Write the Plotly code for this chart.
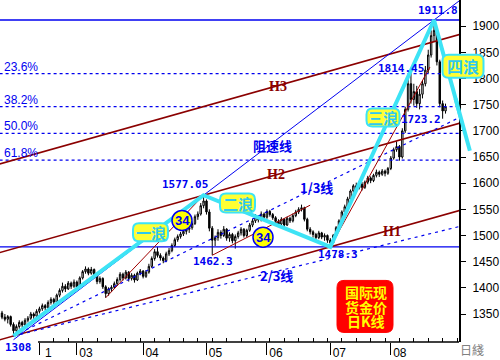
import plotly.graph_objects as go

# ---------------- data (daily candles, index = trading day) ----------------
opens = [1352,1344,1340,1345,1330,1318,1326,1334,1329,1338,
         1342,1350,1346,1355,1360,1366,1362,1372,1378,1373,
         1386,1395,1403,1398,1409,1403,1411,1401,1419,1431,
         1436,1428,1435,1424,1412,1418,1402,1389,1398,1401,
         1408,1416,1426,1419,1430,1418,1424,1415,1428,1432,
         1422,1430,1441,1456,1469,1462,1457,1452,1465,1471,
         1481,1492,1498,1503,1508,1512,1515,1523,1536,1541,
         1557,1566,1545,1514,1491,1496,1506,1500,1512,1495,
         1502,1490,1498,1505,1512,1500,1510,1520,1528,1536,
         1530,1541,1535,1546,1540,1534,1527,1522,1531,1520,
         1533,1528,1538,1545,1550,1553,1531,1512,1507,1502,
         1496,1505,1497,1500,1491,1486,1500,1515,1528,1545,
         1555,1570,1585,1595,1591,1598,1592,1602,1610,1605,
         1615,1621,1617,1623,1619,1628,1648,1664,1670,1650,
         1700,1741,1790,1760,1775,1752,1770,1790,1816,1845,
         1882,1892,1832,1752,1738]
highs = [1356,1350,1348,1347,1334,1330,1338,1337,1342,1346,
         1354,1353,1359,1364,1370,1369,1376,1382,1381,1389,
         1399,1410,1407,1413,1412,1416,1414,1422,1434,1441,
         1439,1440,1437,1428,1422,1420,1405,1401,1405,1412,
         1420,1430,1429,1434,1432,1428,1427,1431,1436,1434,
         1434,1446,1460,1474,1478,1466,1460,1469,1476,1485,
         1496,1502,1507,1512,1516,1520,1527,1540,1546,1562,
         1577.05,1569,1550,1518,1500,1512,1510,1518,1514,1506,
         1505,1502,1509,1516,1514,1513,1524,1532,1541,1539,
         1546,1544,1550,1549,1543,1537,1531,1535,1533,1536,
         1536,1542,1549,1554,1559,1555,1534,1516,1510,1505,
         1509,1507,1504,1502,1495,1503,1518,1531,1548,1559,
         1574,1588,1598,1601,1604,1602,1605,1614,1613,1618,
         1626,1624,1627,1626,1631,1652,1668,1680,1673,1705,
         1746,1800,1814.45,1790,1786,1780,1796,1824,1855,1892,
         1911.8,1896,1836,1758,1752]
lows = [1340,1336,1332,1326,1308,1314,1322,1324,1326,1334,
        1339,1341,1344,1351,1356,1357,1360,1368,1368,1371,
        1382,1391,1392,1396,1398,1400,1396,1399,1416,1427,
        1424,1425,1420,1407,1408,1398,1381,1385,1392,1398,
        1404,1412,1414,1416,1412,1414,1410,1413,1424,1418,
        1419,1427,1438,1452,1458,1452,1447,1449,1461,1468,
        1478,1488,1494,1499,1502,1505,1511,1520,1530,1538,
        1552,1540,1508,1462.3,1480,1490,1494,1497,1490,1488,
        1485,1475,1494,1500,1496,1497,1507,1516,1524,1525,
        1527,1530,1532,1536,1530,1522,1517,1519,1516,1518,
        1524,1525,1535,1541,1546,1527,1508,1502,1496,1491,
        1493,1493,1490,1486,1478.3,1484,1497,1512,1525,1541,
        1551,1566,1580,1586,1588,1586,1589,1598,1600,1602,
        1611,1612,1614,1613,1616,1625,1645,1660,1643,1647,
        1696,1737,1752,1748,1744,1741,1762,1785,1810,1840,
        1870,1825,1745,1723.2,1733]
closes = [1344,1340,1345,1330,1318,1326,1334,1329,1338,1342,
          1350,1346,1355,1360,1366,1362,1372,1378,1373,1386,
          1395,1403,1398,1409,1403,1411,1401,1419,1431,1436,
          1428,1435,1424,1412,1418,1402,1389,1398,1401,1408,
          1416,1426,1419,1430,1418,1424,1415,1428,1432,1422,
          1430,1441,1456,1469,1462,1457,1452,1465,1471,1481,
          1492,1498,1503,1508,1512,1515,1523,1536,1541,1557,
          1566,1545,1514,1491,1496,1506,1500,1512,1495,1502,
          1490,1498,1505,1512,1500,1510,1520,1528,1536,1530,
          1541,1535,1546,1540,1534,1527,1522,1531,1520,1533,
          1528,1538,1545,1550,1553,1531,1512,1507,1502,1496,
          1505,1497,1500,1491,1486,1500,1515,1528,1545,1555,
          1570,1585,1595,1591,1598,1592,1602,1610,1605,1615,
          1621,1617,1623,1619,1628,1648,1664,1670,1650,1700,
          1741,1790,1760,1775,1752,1770,1790,1816,1845,1882,
          1892,1832,1752,1738,1746]
days = list(range(len(closes)))

month_ticks = [13, 26, 49, 71, 92, 114, 135]
month_labels = ["1", "03", "04", "05", "06", "07", "08"]
price_ticks = [1350, 1400, 1450, 1500, 1550, 1600, 1650, 1700, 1750, 1800, 1850, 1900]

# wave turning points (day, price)
wave_days = [4, 70, 114, 150]
wave_prices = [1308, 1577.05, 1478.3, 1911.8]
wave_tail = [162.5, 1661.1]          # end of the 四浪 line (beyond the axis)

fib_low, fib_high = 1478.3, 1911.8
fib_ratios = [0.236, 0.382, 0.5, 0.618]
fib_labels = ["23.6%", "38.2%", "50.0%", "61.8%"]

channel_h1 = [(4, 1308), (114, 1478.3)]
channel_h2_anchor = (70, 1577.05)
channel_h3_anchor = (40, 1700)
speed_line = [(70, 1577.05), (150, 1911.8)]      # 阻速线
third_line = [(4, 1308), (156.6, 1719.6)]        # 1/3线
two_third_line = [(4, 1308), (158.7, 1517)]      # 2/3线
support_lines = [[(36, 1381), (70, 1577.05)],
                 [(73, 1462.3), (107, 1558)],
                 [(114, 1478.3), (148.6, 1822)]]

X_RANGE = [-0.694, 158.68]
Y_RANGE = [1296.5, 1950.05]

# ---------------- styles ----------------
BLUE = "#0000F0"
DARKRED = "#8B0000"
RED_THIN = "#A00000"
CYAN = "#3DE3F5"
CYAN_TXT = "#2EC8F0"
YELLOW = "#FFFF33"
PW, PH = 459, 346


def P(px, py):
    return px / PW, (PH - py) / PH


def line_through(p, q, xa, xb):
    k = (q[1] - p[1]) / (q[0] - p[0])
    return [xa, xb], [p[1] + k * (xa - p[0]), p[1] + k * (xb - p[0])]


fig = go.Figure()
fig.add_trace(go.Candlestick(
    x=days, open=opens, high=highs, low=lows, close=closes,
    increasing=dict(line=dict(color="black", width=1), fillcolor="white"),
    decreasing=dict(line=dict(color="black", width=1), fillcolor="black"),
    whiskerwidth=0, showlegend=False, hoverinfo="skip"))


def add_line(xs, ys, color, width, dash="solid"):
    fig.add_trace(go.Scatter(x=xs, y=ys, mode="lines", hoverinfo="skip", showlegend=False,
                             line=dict(color=color, width=width, dash=dash)))


# horizontal levels
add_line([-5, 170], [fib_high, fib_high], BLUE, 1.3)
add_line([-5, 170], [fib_low, fib_low], BLUE, 1.3)
for r in fib_ratios:
    lv = fib_high - r * (fib_high - fib_low)
    add_line([-5, 170], [lv, lv], BLUE, 1.2, "3px,3px")

# channel lines H1/H2/H3
k = (channel_h1[1][1] - channel_h1[0][1]) / (channel_h1[1][0] - channel_h1[0][0])
for anchor in [channel_h1[0], channel_h2_anchor, channel_h3_anchor]:
    xs = [-5, 170]
    ys = [anchor[1] + k * (x - anchor[0]) for x in xs]
    add_line(xs, ys, DARKRED, 1.6)

# speed lines
xs, ys = line_through(third_line[0], third_line[1], third_line[0][0], 170)
add_line(xs, ys, BLUE, 1.2, "3px,4px")
xs, ys = line_through(two_third_line[0], two_third_line[1], two_third_line[0][0], 170)
add_line(xs, ys, BLUE, 1.2, "3px,4px")
xs, ys = line_through(speed_line[0], speed_line[1], 4, 170)
add_line(xs, ys, BLUE, 1)

for seg in support_lines:
    add_line([seg[0][0], seg[1][0]], [seg[0][1], seg[1][1]], RED_THIN, 1)

# wave line
add_line(wave_days + [wave_tail[0]], wave_prices + [wave_tail[1]], CYAN, 4)

shapes = []
annotations = []

# part of the 四浪 line outside the plot area
t = 0.6
hx = wave_days[-1] + t * (wave_tail[0] - wave_days[-1])
hy = wave_prices[-1] + t * (wave_tail[1] - wave_prices[-1])
annotations.append(dict(x=hx, y=hy, ax=wave_tail[0], ay=wave_tail[1], xref="x", yref="y",
                        axref="x", ayref="y", showarrow=True, arrowhead=0, arrowwidth=4,
                        arrowcolor=CYAN, text="", font=dict(size=1), borderpad=0))

# x axis line starting after the "1308" label
shapes.append(dict(type="line", xref="paper", yref="paper", x0=38 / PW, x1=1, y0=0, y1=0,
                   line=dict(color="black", width=1.5), layer="above"))


def rbox(cx, cy, w, h, r, fill, lc, lw):
    x0, x1, y0, y1 = -w / 2, w / 2, -h / 2, h / 2
    path = (f"M{x0+r},{y0} L{x1-r},{y0} Q{x1},{y0} {x1},{y0+r} L{x1},{y1-r} "
            f"Q{x1},{y1} {x1-r},{y1} L{x0+r},{y1} Q{x0},{y1} {x0},{y1-r} "
            f"L{x0},{y0+r} Q{x0},{y0} {x0+r},{y0} Z")
    ax_, ay_ = P(cx, cy)
    return dict(type="path", xref="paper", yref="paper", xsizemode="pixel", ysizemode="pixel",
                xanchor=ax_, yanchor=ay_, path=path, fillcolor=fill,
                line=dict(color=lc, width=lw), layer="above")


def txt(px, py, s, size, color, family, xanchor="center"):
    x, y = P(px, py)
    annotations.append(dict(x=x, y=y, xref="paper", yref="paper", text=s, showarrow=False,
                            xanchor=xanchor, yanchor="middle",
                            font=dict(size=size, color=color, family=family)))


MONO = "DejaVu Sans Mono"
CJK = "Noto Sans CJK SC"

# wave bubbles
for (cx, cy, w, h, s, fs) in [(150.5, 235, 35, 18, "一浪", 15), (237.5, 205.5, 35, 19, "二浪", 15),
                               (383, 119, 33, 18, "三浪", 15), (463, 67, 41, 23, "四浪", 16)]:
    shapes.append(rbox(cx, cy, w, h, 6, YELLOW, CYAN, 2))
    txt(cx, cy, f"<b>{s}</b>", fs, CYAN_TXT, CJK)

# "34" circles
for (cx, cy) in [(182, 223), (263, 240)]:
    ax_, ay_ = P(cx, cy)
    shapes.append(dict(type="circle", xref="paper", yref="paper", xsizemode="pixel",
                       ysizemode="pixel", xanchor=ax_, yanchor=ay_, x0=-10, x1=10, y0=-10, y1=10,
                       fillcolor="#FFFF00", line=dict(color=BLUE, width=1.5), layer="above"))
    txt(cx, cy, "<b>34</b>", 13, BLUE, "Liberation Sans")

# red info box
shapes.append(rbox(365, 310, 56, 52, 7, "#FF0000", "#FF0000", 1))
for (py, s) in [(295.5, "国际现"), (310.5, "货金价"), (325, "日K线")]:
    txt(365.5, py, f"<b>{s}</b>", 14, "#FFFF00", CJK)

# price labels
for (px, py, s) in [(437.5, 11, "1911.8"), (401, 69, "1814.45"), (421, 121, "1723.2"),
                    (185, 187, "1577.05"), (213, 265, "1462.3"), (338, 257, "1478.3"),
                    (18.5, 351.5, "1308")]:
    txt(px, py, f"<b>{s}</b>", 11, BLUE, MONO)

# fib labels
for r, lab in zip(fib_ratios, fib_labels):
    lv = fib_high - r * (fib_high - fib_low)
    annotations.append(dict(x=2 / PW, y=lv, xref="paper", yref="y", text=lab, showarrow=False,
                            xanchor="left", yanchor="middle", yshift=7,
                            font=dict(size=12, color=BLUE, family="Liberation Sans")))

# channel / line labels
for (px, py, s) in [(278, 88, "H3"), (276, 177, "H2"), (392, 234, "H1")]:
    txt(px, py, f"<b>{s}</b>", 14, DARKRED, "Liberation Serif")
for (px, py, s) in [(272.5, 147.5, "阻速线"), (316, 190, "1/3线"), (276.5, 279, "2/3线")]:
    txt(px, py, f"<b>{s}</b>", 13, BLUE, CJK)

txt(471.5, 354, "日綫", 12, "#808080", "Noto Sans CJK TC")

fig.update_layout(
    width=500, height=360,
    margin=dict(l=0, r=41, t=0, b=14),
    paper_bgcolor="white", plot_bgcolor="white",
    showlegend=False,
    shapes=shapes, annotations=annotations,
    xaxis=dict(range=X_RANGE, showgrid=False, zeroline=False, showline=False,
               tickmode="array", tickvals=month_ticks, ticktext=month_labels,
               ticks="outside", ticklen=12, tickwidth=1, tickcolor="black",
               tickfont=dict(family="Liberation Sans", size=12, color="black"),
               ticklabelshift=9, ticklabelstandoff=-12,
               minor=dict(ticks="inside", ticklen=4, tickcolor="black",
                          tickvals=list(range(18, 159, 5))),
               rangeslider=dict(visible=False), fixedrange=True),
    yaxis=dict(side="right", range=Y_RANGE, tickmode="array", tickvals=price_ticks,
               showgrid=False, zeroline=False, showline=True, linecolor="black", linewidth=2,
               ticks="outside", ticklen=5, tickcolor="black",
               tickfont=dict(family="Liberation Sans", size=12, color="black"),
               ticklabelstandoff=4, fixedrange=True),
)

fig.write_html("out.html", config={"displayModeBar": False},
               post_script="document.body.style.margin='0px';")
